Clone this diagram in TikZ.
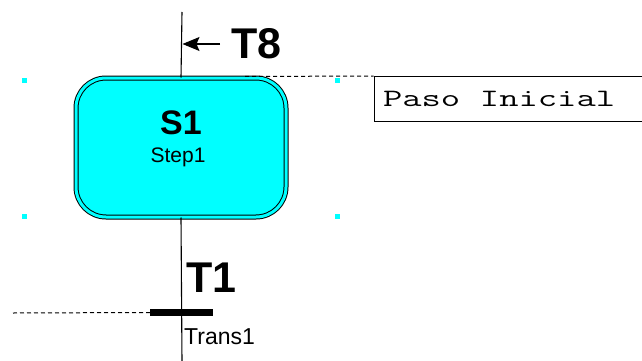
\documentclass[tikz,border=0pt]{standalone}
\usepackage{fontspec}
\setmainfont{Liberation Sans}
\usetikzlibrary{arrows.meta}
\definecolor{stepcyan}{RGB}{0,255,255}
\tikzset{
  wire/.style={draw=black, line width=1.1pt},
  dashwire/.style={draw=black, line width=1pt, dash pattern=on 4pt off 3pt},
  selmark/.style={fill=stepcyan, draw=none, minimum size=5pt, inner sep=0pt},
  bigbold/.style={font=\fontsize{43}{43}\selectfont\bfseries, inner sep=0pt},
}
\begin{document}
\begin{tikzpicture}[x=1pt,y=-1pt]
\useasboundingbox (0,0) rectangle (642,361);
\fill[white] (0,0) rectangle (642,361);
% selection marks
\node[selmark] (m1) at (24,80) {};
\node[selmark] (m2) at (337,80) {};
\node[selmark] (m3) at (24,216) {};
\node[selmark] (m4) at (337,216) {};
% coordinates
\coordinate (top) at (182,12);
\coordinate (bot) at (182,362);
% step
\node[draw=black, line width=1pt, double=stepcyan, double distance=3pt,
      fill=stepcyan, rounded corners=30pt, minimum width=210pt, minimum height=139pt,
      inner sep=0pt] (s1) at (181,147.5) {};
\node[font=\fontsize{34}{34}\selectfont\bfseries, inner sep=0pt] (s1name) at (181,123) {S1};
\node[font=\fontsize{21}{21}\selectfont, inner sep=0pt] (s1sub) at (178,157) {Step1};
% transition bar
\node[fill=black, minimum width=63pt, minimum height=6.5pt, inner sep=0pt] (t1bar) at (181.5,312.5) {};
% main line
\draw[wire] (top) -- (s1.north);
\draw[wire] (s1.south) -- (bot);
% arrow to T8
\coordinate (arrstart) at (220,44);
\coordinate (arrend) at (182.5,44);
\draw[wire, -{Stealth[length=17pt,width=14pt,inset=3pt]}] (arrstart) -- (arrend);
\node[bigbold, anchor=west] (t8) at (231,44) {T8};
\node[bigbold, anchor=west] (t1) at (186,278) {T1};
\node[font=\fontsize{23}{23}\selectfont, inner sep=0pt, anchor=west] (trans1) at (184,337) {Trans1};
% comment box
\node[draw=black, line width=1.1pt, anchor=north west, minimum height=45pt,
      text width=270pt, inner xsep=9pt, align=left] (comment) at (373.5,76)
      {\scalebox{1.5}[1]{\ttfamily\fontsize{25}{25}\selectfont Paso\hspace{0.525em}Inicial}};
\coordinate (dstart) at (245,76.5);
\draw[dashwire] (dstart) -- (comment.north west);
% left dashed line
\coordinate (ldash) at (13,313);
\draw[dashwire] (ldash) -- (t1bar.west);
\end{tikzpicture}
\end{document}
